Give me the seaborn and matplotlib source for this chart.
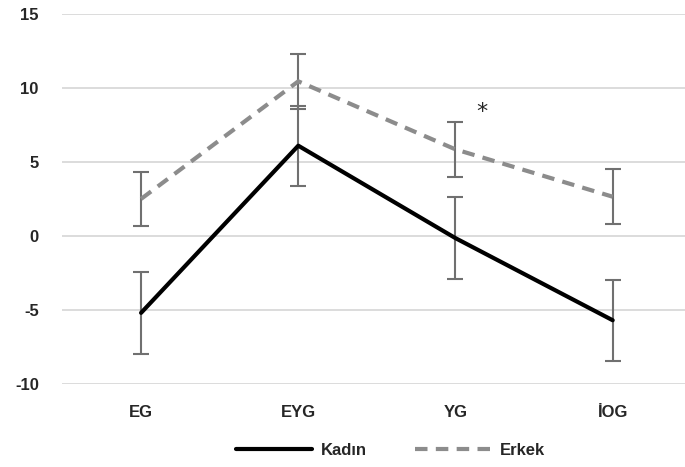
import pandas as pd
import matplotlib
matplotlib.use('Agg')
import matplotlib.pyplot as plt
import seaborn as sns
from matplotlib.lines import Line2D

# Veri
gruplar = ['EG', 'EYG', 'YG', 'İOG']
kadin = [-5.2, 6.1, -0.15, -5.7]
kadin_hata = [2.75, 2.7, 2.75, 2.75]
erkek = [2.5, 10.45, 5.85, 2.65]
erkek_hata = [1.85, 1.85, 1.85, 1.85]

df = pd.DataFrame({
    'grup': gruplar * 2,
    'deger': kadin + erkek,
    'cinsiyet': ['Kadın'] * 4 + ['Erkek'] * 4,
})

sns.set_style('white')
plt.rcParams['font.family'] = ['Liberation Sans', 'DejaVu Sans']
plt.rcParams['axes.unicode_minus'] = False

fig = plt.figure(figsize=(6.85, 4.67), dpi=100)
ax = fig.add_axes([0.0912, 0.178, 0.9088, 0.792])

# Hata çubukları
ax.errorbar(range(4), kadin, yerr=kadin_hata, fmt='none', ecolor='#707070',
            elinewidth=1.5, capsize=6, capthick=1.5, zorder=2)
ax.errorbar(range(4), erkek, yerr=erkek_hata, fmt='none', ecolor='#707070',
            elinewidth=1.5, capsize=6, capthick=1.5, zorder=2)

sns.lineplot(data=df, x='grup', y='deger', hue='cinsiyet', style='cinsiyet',
             palette={'Kadın': 'black', 'Erkek': '#8c8c8c'},
             dashes={'Kadın': '', 'Erkek': (3, 2)},
             linewidth=3, sort=False, ax=ax, legend=False, zorder=3)

ax.text(2.17, 8.4, '*', fontsize=16, ha='center', va='center', family='DejaVu Sans')

ax.set_xlim(-0.5, 3.46)
ax.set_ylim(-10, 15)
ax.set_yticks([-10, -5, 0, 5, 10, 15])
ax.yaxis.grid(True, color='#d9d9d9', linewidth=1.3)
ax.set_axisbelow(True)
for s in ax.spines.values():
    s.set_visible(False)
ax.set_xlabel('')
ax.set_ylabel('')
ax.tick_params(axis='both', length=0, labelsize=12)
ax.tick_params(axis='y', pad=17)
ax.tick_params(axis='x', pad=15)
for lbl in ax.get_xticklabels() + ax.get_yticklabels():
    lbl.set_fontweight('bold')

# Lejant
handles = [Line2D([], [], color='black', linewidth=3),
           Line2D([], [], color='#8c8c8c', linewidth=3, dashes=(3, 2))]
fig.legend(handles, ['Kadın', 'Erkek'], loc='center', bbox_to_anchor=(0.57, 0.035),
           ncol=2, frameon=False, handlelength=4.6, handletextpad=0.5,
           columnspacing=2.9, prop={'weight': 'bold', 'size': 12})

fig.savefig('out.png', dpi=100)
